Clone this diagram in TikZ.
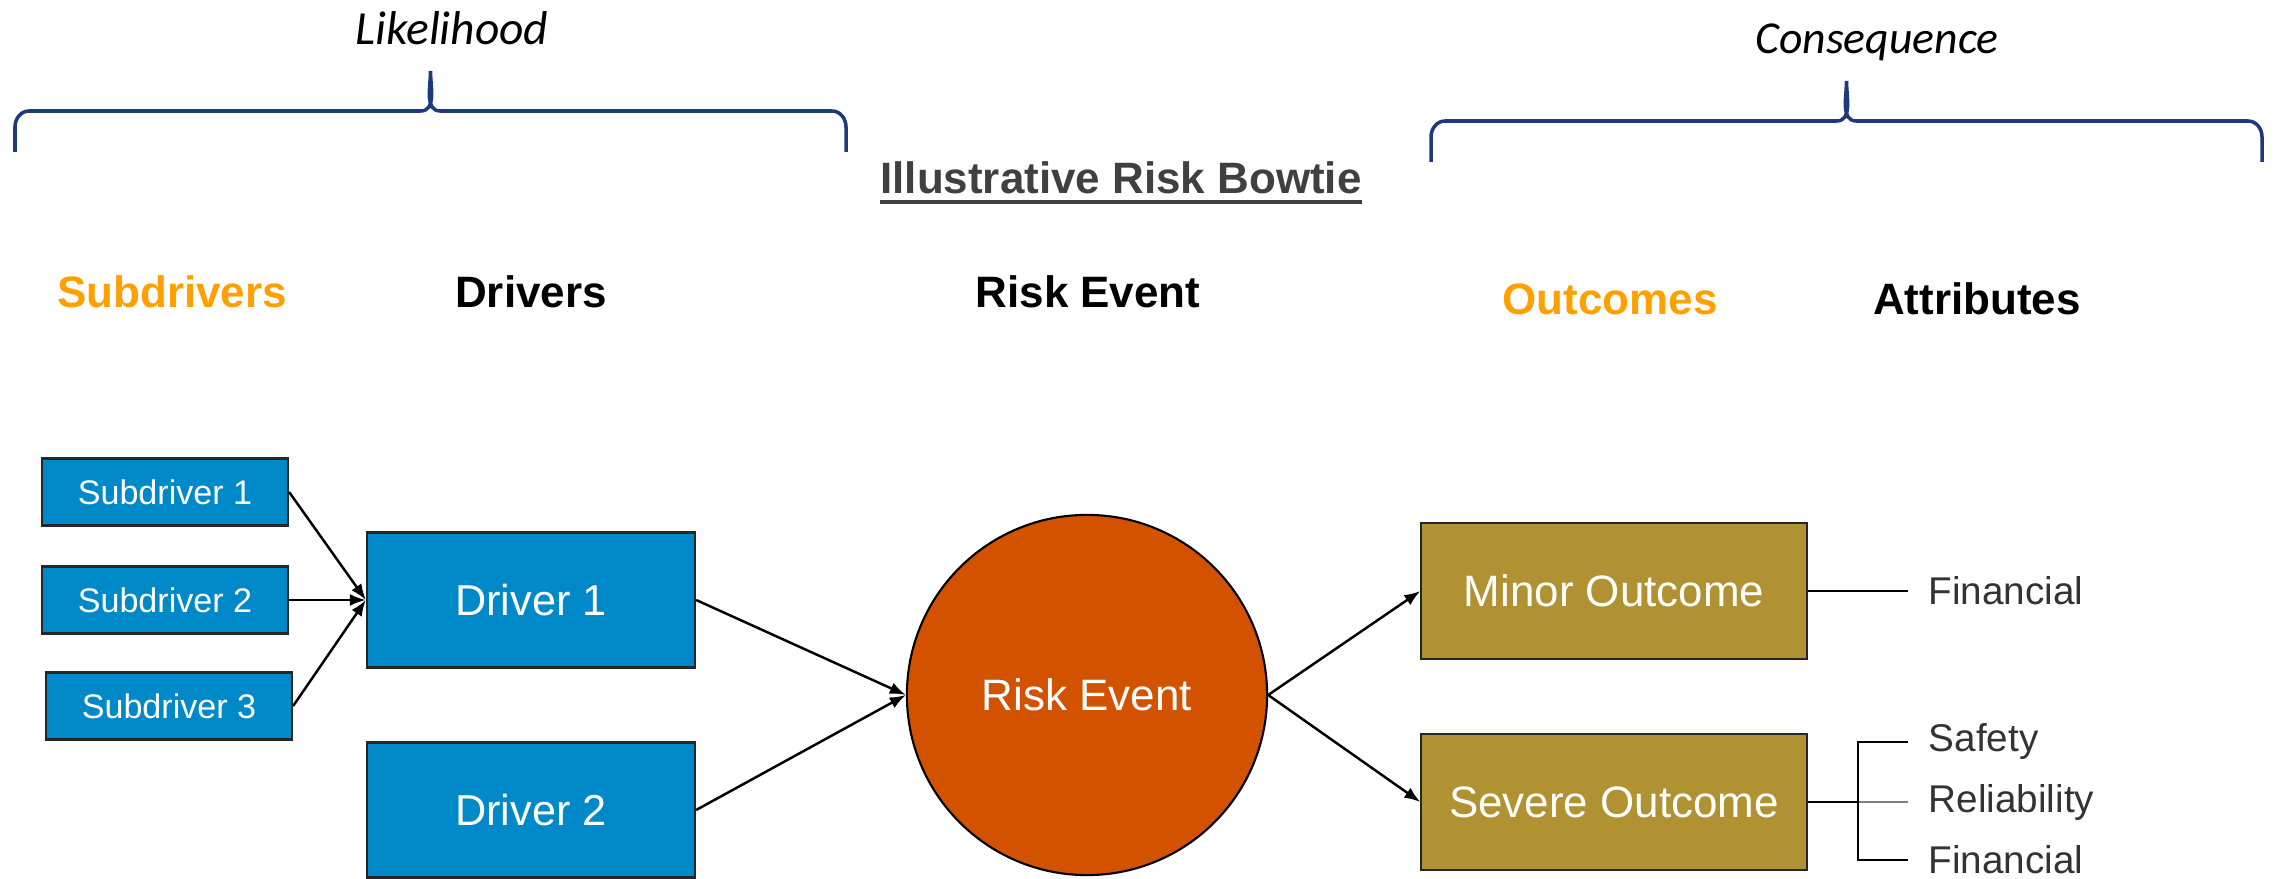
\documentclass[tikz,border=0pt]{standalone}
\usepackage{fontspec}
\setmainfont{Liberation Sans}
\newfontfamily\calibri{Carlito}
\usetikzlibrary{arrows.meta}
\definecolor{driveblue}{RGB}{0,137,201}
\definecolor{riskorange}{RGB}{211,82,0}
\definecolor{outgold}{RGB}{176,146,50}
\definecolor{headorange}{RGB}{255,160,0}
\definecolor{bracenavy}{RGB}{30,58,122}
\definecolor{titlegrey}{RGB}{64,64,64}
\tikzset{
  px/.style={x=0.01cm,y=-0.01cm},
  subbox/.style={draw=black!85, line width=0.6pt, fill=driveblue, text=white, minimum width=2.46cm, minimum height=0.67cm, inner sep=0pt, font=\fontsize{9.7}{11}\selectfont},
  drivebox/.style={subbox, minimum width=3.28cm, minimum height=1.35cm, font=\fontsize{12.3}{14}\selectfont},
  riskdisc/.style={circle, draw=black, line width=0.6pt, fill=riskorange, text=white, minimum size=3.6cm, inner sep=0pt, font=\fontsize{12.5}{14}\selectfont},
  outbox/.style={drivebox, fill=outgold, minimum width=3.85cm, minimum height=1.36cm, font=\fontsize{12.5}{14}\selectfont},
  header/.style={font=\bfseries\fontsize{12.5}{14}\selectfont, inner sep=0pt},
  attr/.style={anchor=west, inner xsep=0.2cm, inner ysep=0pt, text=black!80, font=\fontsize{11}{13}\selectfont},
  link/.style={line width=0.7pt, -{Latex[length=0.16cm,width=0.12cm]}},
  tie/.style={line width=0.7pt},
  brace/.style={draw=bracenavy, line width=1pt},
}
% brace over a column group: left x, right x, y of the bar
\newcommand\capbrace[3]{%
  \pgfmathsetmacro\bl{#1+14}\pgfmathsetmacro\br{#2-14}%
  \pgfmathsetmacro\bm{(#1+#2)/2}%
  \pgfmathsetmacro\bml{\bm-10}\pgfmathsetmacro\bmr{\bm+10}%
  \pgfmathsetmacro\bend{#3+41}\pgfmathsetmacro\bknee{#3+16}%
  \pgfmathsetmacro\btip{#3-40}%
  \draw[brace] (#1,\bend) -- (#1,\bknee) to[out=90,in=180] (\bl,#3)
    -- (\bml,#3) to[out=0,in=-90] (\bm,\btip)
    to[out=-90,in=180] (\bmr,#3) -- (\br,#3)
    to[out=0,in=90] (#2,\bknee) -- (#2,\bend);}

\begin{document}
\begin{tikzpicture}[px]
	\useasboundingbox (0,0) rectangle (2275,879);
	
	%%%%% BRACES %%%%%
	\capbrace{15}{846}{111}
	\capbrace{1431}{2262}{121}
	\node[font=\calibri\itshape\fontsize{13.5}{16}\selectfont] (likely) at (452,28) {Likelihood};
	\node[font=\calibri\itshape\fontsize{13}{16}\selectfont] (conseq) at (1877,42) {Consequence};
	
	%%%%% HEADERS %%%%%
	\node[header, text=titlegrey, inner ysep=0.07cm] (title) at (1121,178) {Illustrative Risk Bowtie};
	\draw[titlegrey, line width=1pt] (title.south west) -- (title.south east);
	\node[header, text=headorange] (hsub) at (172,292) {Subdrivers};
	\node[header] (hdrv) at (531,292) {Drivers};
	\node[header] (hrisk) at (1088,292) {Risk Event};
	\node[header, text=headorange] (hout) at (1610,299) {Outcomes};
	\node[header] (hattr) at (1977,299) {Attributes};
	
	%%%%% BOWTIE %%%%%
	\node[subbox] (sub1) at (165,492) {Subdriver 1};
	\node[subbox] (sub2) at (165,600) {Subdriver 2};
	\node[subbox] (sub3) at (169,706) {Subdriver 3};
	\node[drivebox] (drv1) at (531,600) {Driver 1};
	\node[drivebox] (drv2) at (531,810) {Driver 2};
	\node[riskdisc] (risk) at (1087,695) {Risk Event};
	\node[outbox] (minor) at (1614,591) {Minor Outcome};
	\node[outbox] (severe) at (1614,802) {Severe Outcome};
	
	\node[attr] (fin1) at (1908,591) {Financial};
	\node[attr] (safe) at (1908,742) {Safety};
	\node[attr] (rel) at (1908,802) {Reliability};
	\node[attr] (fin2) at (1908,860) {Financial};
	
	%%%%% CONNECTORS %%%%%
	\foreach \src in {sub1,sub2,sub3} \draw[link] (\src.east) -- (drv1.west);
	\foreach \drv in {drv1,drv2} \draw[link] (\drv.east) -- (risk.west);
	\foreach \outc in {minor,severe} \draw[link] (risk.east) -- (\outc.west);
	
	\draw[tie] (minor.east) -- (fin1.west);
	\coordinate (fork) at (1858,802);
	\draw[tie] (severe.east) -- (fork);
	\draw[tie, black!50] (fork) -- (rel.west);
	\draw[tie] (safe.west) -| (fork) |- (fin2.west);
\end{tikzpicture}
\end{document}
